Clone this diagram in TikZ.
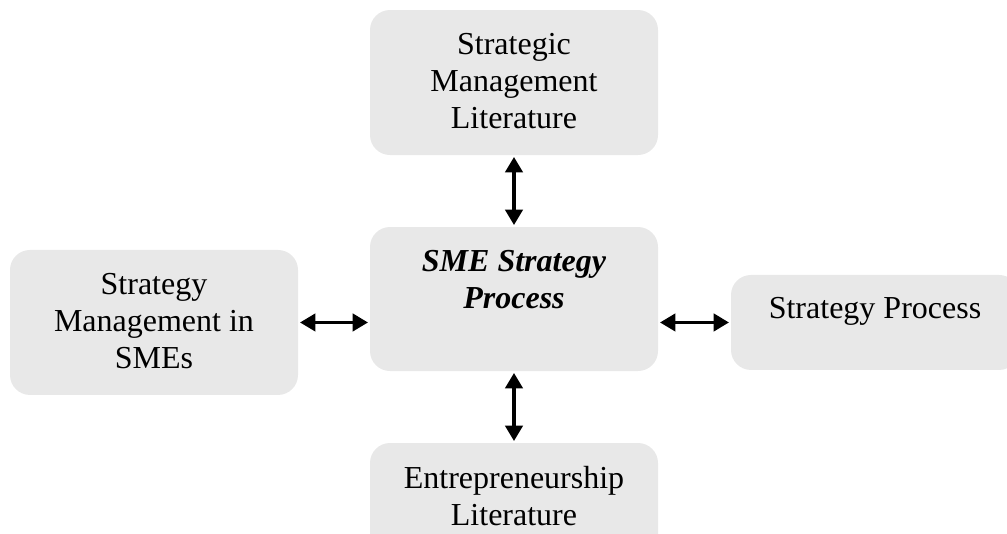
\documentclass[tikz,border=0pt]{standalone}
\usepackage{fontspec}
\setmainfont{Liberation Serif}
\usepackage{tikz}
\usetikzlibrary{positioning,arrows.meta}
\definecolor{boxgray}{RGB}{232,232,232}

\begin{document}
\begin{tikzpicture} [
				x=0.75pt, y=-0.75pt,
				box/.style={fill=boxgray,rounded corners=15pt,minimum width=216pt,inner sep=0pt,outer sep=0pt},
				txt/.style={align=center,inner sep=0pt,font=\fontsize{24}{27.75}\selectfont},
				link/.style={{Triangle[length=11.5pt,width=13pt]}-{Triangle[length=11.5pt,width=13pt]},line width=2.4pt,shorten <=1.5pt,shorten >=1.5pt}
			]
			\clip (0,0) rectangle (1007,533);
			% boxes
			\node[box,minimum height=108pt] (core) at (514,299) {};
			\node[box,minimum height=108.75pt,above=54pt of core] (lit) {};
			\node[box,minimum height=108.75pt,left=54pt of core,yshift=-17.6pt] (sme) {};
			\node[box,minimum height=71.25pt,right=54.75pt of core.east,anchor=west,yshift=-17.6pt] (proc) {};
			\node[box,minimum height=108pt,below=54pt of core] (entre) {};
			% texts
			\node[txt,below=17.5pt of core.north] (coretext) {\textbf{\textit{SME Strategy}}\\\textbf{\textit{Process}}};
			\node[txt,below=17.5pt of lit.north] (littext) {Strategic\\Management\\Literature};
			\node[txt,below=17pt of sme.north] (smetext) {Strategy\\Management in\\SMEs};
			\node[txt,below=16.5pt of proc.north] (proctext) {Strategy Process};
			\node[txt,below=17.5pt of entre.north] (entretext) {Entrepreneurship\\Literature};
			% links
			\draw[link] (lit) -- (core);
			\draw[link] (core) -- (entre);
			\draw[link] (sme.east) -- (sme.east -| core.west);
			\draw[link] (proc.west -| core.east) -- (proc.west);
		\end{tikzpicture}
\end{document}
